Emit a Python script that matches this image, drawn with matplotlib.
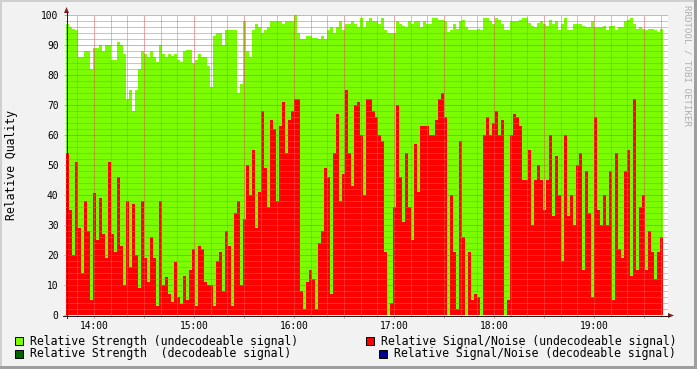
import numpy as np
import matplotlib
matplotlib.use("Agg")
import matplotlib.pyplot as plt
from matplotlib.patches import Rectangle, Polygon
from matplotlib.lines import Line2D
from matplotlib.ticker import MultipleLocator, FuncFormatter

# ---------------- data ----------------
start_minute = 43.2      # first sample: minutes after 13:00 (13:43:12)
step_minutes = 1.8       # sample spacing
axis_end_minute = 404.4  # right end of time axis

strength = [97, 96, 95.5, 95, 86, 86, 88, 88, 82, 89,
            89, 90, 88, 90, 90, 85, 85, 91, 90, 87,
            72, 75, 68, 75, 82, 88, 87, 86, 88, 86,
            84.5, 90, 87, 86, 87, 86.5, 87, 85, 84.5, 88,
            88.5, 88.5, 84, 85, 87, 86, 86, 83, 76, 93,
            94, 94, 90, 95, 95, 95, 95, 74, 77, 98,
            88, 86, 95, 97, 96, 94, 95, 96, 98, 98,
            98, 98, 97, 98, 98, 98, 100, 94, 92, 92,
            93, 93, 92.5, 92.5, 92, 93, 92, 95, 96, 94,
            96, 98, 95, 97, 97, 98, 97, 96, 99, 96,
            98, 99, 98, 98, 97, 99, 95, 94, 94, 94,
            98, 97, 96.5, 96, 98, 97, 98, 98, 96, 98,
            97, 97, 99, 99, 98.5, 98.5, 98, 94.4, 95, 97,
            95.5, 98, 98.5, 96, 95, 95, 95, 95.5, 95, 99,
            99, 98, 97, 99, 98.5, 97, 95, 95, 98, 98,
            98, 98.5, 99, 99, 97.5, 96.5, 96, 97.5, 98, 97,
            96.5, 98.5, 97, 98, 95, 97, 99, 95, 95, 97,
            97, 97, 96.5, 96, 96, 98, 96, 96, 96, 96.5,
            95, 96.5, 96.5, 95, 96, 96, 98, 98.5, 99, 97,
            95.5, 96, 95.5, 95, 95.5, 95.5, 95, 94.5, 95.5]

signal_noise = [54, 35, 20, 51, 29, 14, 38, 28, 5, 40.6,
                25, 39, 27, 19, 51, 27, 21, 46, 23, 10,
                38, 16, 37, 20, 9, 38, 19, 11, 26, 19,
                3, 38, 10, 12.6, 7, 4.4, 17.6, 6, 3.6, 13,
                5, 15, 22, 3, 23, 22, 11, 10, 10, 3,
                18, 21, 8, 28, 23, 3, 34, 38, 10, 32,
                50, 40, 55, 29, 41, 68, 49, 36, 65, 62,
                38, 63, 71, 54, 65, 68, 72, 72, 8, 2,
                11, 15, 12, 2, 24, 28, 49, 46, 7, 54,
                67, 38, 47, 75, 54, 43, 70, 71, 60, 40,
                72, 72, 68, 66, 60, 58, 21, 0, 4, 36,
                70, 46, 31, 54, 36, 25, 57, 41, 63, 63,
                63, 60, 60, 65, 72, 74, 66, 0, 40, 21,
                2, 58, 26, 0, 21, 5, 7, 6, 0, 60,
                66, 60, 64, 68, 60, 65, 0, 5, 60, 67,
                66, 63, 45, 45, 55, 30, 45, 50, 45, 35,
                45, 60, 33, 53, 40, 18, 60, 33, 40, 30,
                50, 54, 15, 48, 34, 6, 66, 35, 30, 40,
                30, 48, 5, 54, 22, 19, 48, 55, 13, 72,
                15, 36, 40, 15, 28, 21, 12, 21, 26]

hour_positions = [60, 120, 180, 240, 300, 360]
hour_labels = ["14:00", "15:00", "16:00", "17:00", "18:00", "19:00"]
y_label = "Relative Quality"
legend_labels = ["Relative Strength (undecodeable signal)",
                 "Relative Signal/Noise (undecodeable signal)",
                 "Relative Strength  (decodeable signal)",
                 "Relative Signal/Noise (decodeable signal)"]
legend_colors = ["#7CFC00", "#FF0000", "#006400", "#00008B"]
watermark = "RRDTOOL / TOBI OETIKER"

# ---------------- style ----------------
plt.rcParams["font.family"] = ["DejaVu Sans Mono"]
BACK = "#F2F2F2"
GRID = (0.56, 0.56, 0.56, 0.55)
MGRID = (0.87, 0.31, 0.31, 0.55)
ARROW = "#801F1F"
AXIS = "#1F1F1F"

W, H = 697, 369
fig = plt.figure(figsize=(W / 100, H / 100), dpi=100, facecolor=BACK)


def fx(x):
    return x / W


def fy(y):
    return 1 - y / H


L, R, T, B = 66, 668, 15, 315
ax = fig.add_axes([fx(L), fy(B), fx(R) - fx(L), fy(T) - fy(B)])
ax.set_facecolor("white")

n = len(strength)
edges = start_minute + step_minutes * np.arange(n + 1)
ax.stairs(strength, edges, fill=True, color=legend_colors[0], baseline=0, lw=0, zorder=1)
ax.stairs(signal_noise, edges, fill=True, color=legend_colors[1], baseline=0, lw=0, zorder=1.1)

ax.set_xlim(start_minute, axis_end_minute)
ax.set_ylim(0, 100)

label_map = dict(zip(hour_positions, hour_labels))
ax.xaxis.set_major_locator(MultipleLocator(30))
ax.xaxis.set_minor_locator(MultipleLocator(10))
ax.xaxis.set_major_formatter(FuncFormatter(lambda v, p: label_map.get(int(round(v)), "")))
ax.yaxis.set_major_locator(MultipleLocator(10))
ax.yaxis.set_minor_locator(MultipleLocator(2))
ax.yaxis.set_major_formatter(FuncFormatter(lambda v, p: f"{int(round(v))}"))

ax.set_axisbelow(False)
ax.grid(True, which="major", color=MGRID, lw=0.72, ls=(0, (1, 1)))
ax.grid(True, which="minor", color=GRID, lw=0.72, ls=(0, (1, 1)))

for s in ax.spines.values():
    s.set_visible(False)

ax.tick_params(axis="y", which="major", direction="inout", length=2.9, width=0.72,
               color=MGRID, pad=4.0, labelsize=6.9, labelcolor="black")
ax.tick_params(axis="y", which="minor", direction="inout", length=1.5, width=0.72, color=GRID)
ax.tick_params(axis="x", which="major", direction="inout", length=4.3, width=0.72,
               color=MGRID, pad=2.0, labelsize=6.9, labelcolor="black")
ax.tick_params(axis="x", which="minor", direction="inout", length=2.2, width=0.72, color=GRID)

# axes lines and arrows (figure pixel coordinates)
fig.add_artist(Line2D([fx(L + 0.5), fx(L + 0.5)], [fy(B + 3), fy(12)], color=AXIS, lw=0.72))
fig.add_artist(Line2D([fx(L - 3), fx(R + 1)], [fy(B + 0.5), fy(B + 0.5)], color=AXIS, lw=0.72))
fig.add_artist(Polygon([(fx(L + 0.5), fy(7)), (fx(L - 2), fy(13)), (fx(L + 3), fy(13))],
                       closed=True, color=ARROW, lw=0))
fig.add_artist(Polygon([(fx(R + 6), fy(B + 0.5)), (fx(R), fy(B - 2)), (fx(R), fy(B + 3))],
                       closed=True, color=ARROW, lw=0))

# y label
fig.text(fx(12), fy(165), y_label, rotation=90, ha="center", va="center", fontsize=8.3)

# watermark
fig.text(fx(686.5), fy(5), watermark, rotation=270, ha="center", va="top",
         fontsize=6.6, color="#B0B0B0")

# legend
leg_pos = [(15, 341), (366, 341), (15, 354), (379, 354)]
for (lx, ly), lab, col in zip(leg_pos, legend_labels, legend_colors):
    fig.add_artist(Rectangle((fx(lx), fy(ly + 4)), fx(8), 8 / H, facecolor=col,
                             edgecolor="black", lw=0.7))
    fig.text(fx(lx + 15), fy(ly), lab, ha="left", va="center", fontsize=8.3)

# 3D frame
fig.add_artist(Rectangle((0, fy(2)), 1, 2 / H, facecolor="#CFCFCF", lw=0))
fig.add_artist(Rectangle((0, 0), fx(2), 1, facecolor="#CFCFCF", lw=0))
fig.add_artist(Rectangle((0, 0), 1, 3 / H, facecolor="#9E9E9E", lw=0))
fig.add_artist(Rectangle((fx(W - 3), 0), fx(3), 1, facecolor="#9E9E9E", lw=0))

fig.savefig("out.png", dpi=100, facecolor=BACK)
